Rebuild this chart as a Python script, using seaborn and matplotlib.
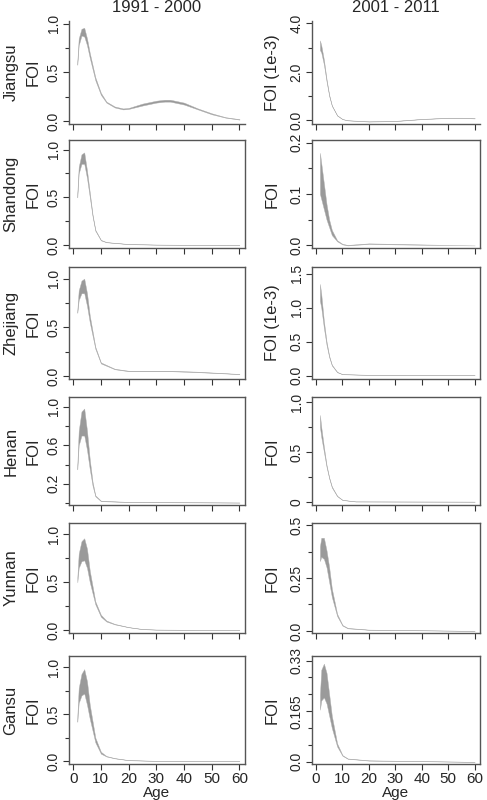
import numpy as np
import matplotlib
matplotlib.use("Agg")
import matplotlib.pyplot as plt
import seaborn as sns
from matplotlib.ticker import FixedLocator

sns.set_style("white")
plt.rcParams['font.family'] = ['Liberation Sans', 'DejaVu Sans']

provinces = ["Jiangsu", "Shandong", "Zhejiang", "Henan", "Yunnan", "Gansu"]
periods = ["1991 - 2000", "2001 - 2011"]

# ---- 1991-2000 ----
js1_age = [1.5, 2, 3, 4, 5, 6, 8, 10, 12, 15, 18, 20, 25, 30, 33, 35, 40, 45, 50, 55, 60]
js1_lo = [0.58, 0.78, 0.88, 0.87, 0.78, 0.65, 0.42, 0.27, 0.19, 0.14, 0.12, 0.125, 0.16, 0.19, 0.20, 0.20, 0.17, 0.12, 0.07, 0.035, 0.015]
js1_hi = [0.62, 0.85, 0.95, 0.96, 0.85, 0.70, 0.45, 0.29, 0.20, 0.15, 0.13, 0.135, 0.18, 0.21, 0.22, 0.22, 0.19, 0.13, 0.08, 0.04, 0.02]

sd1_age = [1.5, 2, 3, 4, 5, 6, 7, 8, 10, 12, 20, 30, 60]
sd1_lo = [0.50, 0.75, 0.85, 0.85, 0.70, 0.50, 0.30, 0.15, 0.05, 0.03, 0.01, 0.005, 0.0]
sd1_hi = [0.55, 0.82, 0.95, 0.97, 0.78, 0.55, 0.32, 0.16, 0.055, 0.032, 0.012, 0.006, 0.0]

zj1_age = [1.5, 2, 3, 4, 5, 6, 8, 10, 15, 20, 35, 45, 60]
zj1_lo = [0.65, 0.78, 0.85, 0.85, 0.72, 0.55, 0.28, 0.13, 0.07, 0.05, 0.05, 0.04, 0.02]
zj1_hi = [0.68, 0.88, 0.98, 1.00, 0.85, 0.62, 0.30, 0.14, 0.075, 0.055, 0.055, 0.045, 0.022]

hn1_age = [1.5, 2, 3, 4, 5, 6, 7, 8, 10, 20, 60]
hn1_lo = [0.35, 0.60, 0.70, 0.70, 0.55, 0.35, 0.18, 0.07, 0.02, 0.01, 0.005]
hn1_hi = [0.40, 0.75, 0.95, 0.98, 0.75, 0.45, 0.22, 0.08, 0.025, 0.012, 0.006]

yn1_age = [1.5, 2, 3, 4, 5, 6, 8, 10, 12, 15, 20, 25, 30, 60]
yn1_lo = [0.50, 0.65, 0.72, 0.73, 0.65, 0.50, 0.27, 0.14, 0.09, 0.06, 0.03, 0.01, 0.005, 0.0]
yn1_hi = [0.55, 0.80, 0.93, 0.96, 0.85, 0.62, 0.30, 0.16, 0.10, 0.065, 0.032, 0.012, 0.006, 0.0]

gs1_age = [1.5, 2, 3, 4, 5, 6, 8, 10, 12, 15, 20, 30, 60]
gs1_lo = [0.42, 0.62, 0.70, 0.72, 0.60, 0.45, 0.20, 0.08, 0.05, 0.03, 0.01, 0.003, 0.0]
gs1_hi = [0.48, 0.78, 0.93, 0.98, 0.85, 0.60, 0.25, 0.10, 0.055, 0.033, 0.012, 0.004, 0.0]

# ---- 2001-2011 ----
js2_age = [1.5, 2, 3, 4, 5, 6, 8, 10, 12, 20, 30, 40, 50, 55, 60]
js2_lo = [2.9, 2.8, 2.3, 1.6, 1.0, 0.6, 0.2, 0.05, 0.0, -0.05, -0.03, 0.05, 0.10, 0.10, 0.08]
js2_hi = [3.3, 3.1, 2.5, 1.7, 1.05, 0.62, 0.21, 0.055, 0.005, -0.04, -0.02, 0.06, 0.11, 0.11, 0.09]

sd2_age = [1.5, 2, 3, 4, 5, 6, 8, 10, 12, 20, 30, 60]
sd2_lo = [0.10, 0.09, 0.07, 0.05, 0.035, 0.02, 0.008, 0.002, 0.0, 0.003, 0.002, 0.0]
sd2_hi = [0.18, 0.16, 0.12, 0.08, 0.05, 0.03, 0.010, 0.003, 0.001, 0.004, 0.003, 0.0]

zj2_age = [1.5, 2, 3, 4, 5, 6, 8, 10, 20, 60]
zj2_lo = [1.10, 1.00, 0.70, 0.45, 0.27, 0.15, 0.05, 0.02, 0.01, 0.005]
zj2_hi = [1.35, 1.20, 0.80, 0.50, 0.29, 0.16, 0.055, 0.022, 0.012, 0.006]

hn2_age = [1.5, 2, 3, 4, 5, 6, 8, 10, 15, 60]
hn2_lo = [0.75, 0.65, 0.50, 0.35, 0.235, 0.145, 0.058, 0.02, 0.005, 0.003]
hn2_hi = [0.87, 0.75, 0.55, 0.37, 0.245, 0.155, 0.062, 0.022, 0.006, 0.004]

yn2_age = [1.5, 2, 3, 4, 5, 6, 8, 10, 12, 20, 60]
yn2_lo = [0.33, 0.35, 0.34, 0.30, 0.23, 0.16, 0.07, 0.025, 0.012, 0.005, 0.0]
yn2_hi = [0.40, 0.44, 0.44, 0.38, 0.30, 0.20, 0.08, 0.028, 0.014, 0.006, 0.0]

gs2_age = [1.5, 2, 3, 4, 5, 6, 8, 10, 12, 20, 60]
gs2_lo = [0.17, 0.20, 0.21, 0.19, 0.15, 0.11, 0.05, 0.02, 0.01, 0.004, 0.0]
gs2_hi = [0.22, 0.30, 0.32, 0.29, 0.22, 0.15, 0.06, 0.022, 0.011, 0.005, 0.0]

left_data = [(js1_age, js1_lo, js1_hi), (sd1_age, sd1_lo, sd1_hi), (zj1_age, zj1_lo, zj1_hi),
             (hn1_age, hn1_lo, hn1_hi), (yn1_age, yn1_lo, yn1_hi), (gs1_age, gs1_lo, gs1_hi)]
right_data = [(js2_age, js2_lo, js2_hi), (sd2_age, sd2_lo, sd2_hi), (zj2_age, zj2_lo, zj2_hi),
              (hn2_age, hn2_lo, hn2_hi), (yn2_age, yn2_lo, yn2_hi), (gs2_age, gs2_lo, gs2_hi)]

left_y = [
    ((-0.03, 1.03), [0, 0.5, 1.0], ["0.0", "0.5", "1.0"], [0.25, 0.75]),
    ((-0.03, 1.1), [0, 0.5, 1.0], ["0.0", "0.5", "1.0"], [0.25, 0.75]),
    ((-0.03, 1.12), [0, 0.5, 1.0], ["0.0", "0.5", "1.0"], [0.25, 0.75]),
    ((-0.02, 1.1), [0.2, 0.6, 1.0], ["0.2", "0.6", "1.0"], [0.0, 0.4, 0.8]),
    ((-0.03, 1.12), [0, 0.5, 1.0], ["0.0", "0.5", "1.0"], [0.25, 0.75]),
    ((-0.03, 1.12), [0, 0.5, 1.0], ["0.0", "0.5", "1.0"], [0.25, 0.75]),
]
right_y = [
    ((-0.15, 4.1), [0, 2, 4], ["0.0", "2.0", "4.0"], [1, 3]),
    ((-0.005, 0.205), [0, 0.1, 0.2], ["0.0", "0.1", "0.2"], [0.05, 0.15]),
    ((-0.05, 1.6), [0, 0.5, 1.0, 1.5], ["0.0", "0.5", "1.0", "1.5"], []),
    ((-0.03, 1.05), [0, 0.5, 1.0], ["0", "0.5", "1.0"], [0.25, 0.75]),
    ((-0.01, 0.51), [0, 0.25, 0.5], ["0.0", "0.25", "0.5"], [0.125, 0.375]),
    ((-0.007, 0.345), [0, 0.165, 0.33], ["0.0", "0.165", "0.33"], [0.055, 0.11, 0.22, 0.275]),
]
right_ylabel = ["FOI (1e-3)", "FOI", "FOI (1e-3)", "FOI", "FOI", "FOI"]

fig = plt.figure(figsize=(4.87, 8.0), dpi=100)
W, H = 487, 800
col_x = [(69, 245), (312, 480)]
row_y = [(21, 124), (140, 248), (267, 379), (397, 505), (523, 633), (656, 764)]
fill_col = "#9a9a9a"
edge = "#555555"

for r in range(6):
    for c in range(2):
        x0, x1 = col_x[c]
        y0, y1 = row_y[r]
        ax = fig.add_axes([x0 / W, 1 - y1 / H, (x1 - x0) / W, (y1 - y0) / H])
        age, lo, hi = (left_data if c == 0 else right_data)[r]
        ax.fill_between(age, lo, hi, color=fill_col, linewidth=0.3, edgecolor="#b0b0b0")
        ylim, maj, labs, minor = (left_y if c == 0 else right_y)[r]
        ax.set_ylim(*ylim)
        ax.set_xlim(-1.5, 62)
        ax.set_yticks(maj)
        ax.set_yticklabels(labs, rotation=90, va="center", fontsize=10)
        ax.yaxis.set_minor_locator(FixedLocator(minor))
        ax.set_xticks(range(0, 61, 10))
        ax.tick_params(axis="both", which="major", length=4, width=0.8, color="#333333",
                       direction="out", pad=2, left=True, bottom=True)
        ax.tick_params(axis="y", which="minor", length=3, width=0.8, color="#333333", left=True)
        if r == 5:
            ax.set_xticklabels([str(v) for v in range(0, 61, 10)], fontsize=11)
            ax.set_xlabel("Age", fontsize=11, labelpad=0)
        else:
            ax.set_xticklabels([])
        for s in ax.spines.values():
            s.set_color(edge)
            s.set_linewidth(1.0)
        if r == 0:
            ax.spines["top"].set_visible(False)
            ax.spines["right"].set_visible(False)
        yc = 1 - (y0 + y1) / 2 / H
        if c == 0:
            fig.text(33 / W, yc, "FOI", rotation=90, ha="center", va="center", fontsize=12)
            fig.text(11 / W, yc, provinces[r], rotation=90, ha="center", va="center", fontsize=12)
        else:
            fig.text(272 / W, yc, right_ylabel[r], rotation=90, ha="center", va="center", fontsize=12)
        if r == 0:
            fig.text((x0 + x1) / 2 / W, 1 - 8 / H, periods[c], ha="center", va="center", fontsize=12)

fig.savefig("out.png", dpi=100)
